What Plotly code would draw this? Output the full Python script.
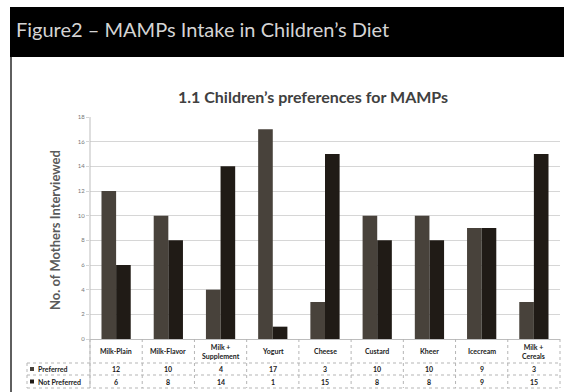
import plotly.graph_objects as go

# Chart data
categories = ["Milk-Plain", "Milk-Flavor", "Milk +<br>Supplement", "Yogurt", "Cheese",
              "Custard", "Kheer", "Icecream", "Milk +<br>Cereals"]
preferred = [12, 10, 4, 17, 3, 10, 10, 9, 3]
not_preferred = [6, 8, 14, 1, 15, 8, 8, 9, 15]
series_names = ["Preferred", "Not Preferred"]
y_ticks = [0, 2, 4, 6, 8, 10, 12, 14, 16, 18]

W, H = 564, 392
L, R, T, B = 90, 4, 117, 53          # plot-area margins in px
PW, PH = W - L - R, H - T - B
N = len(categories)

C_PREF = "#48423b"
C_NOT = "#201b16"
GRID = "#d6d6d6"


def px_x(px):
    return (px - L) / PW


def px_y(py):
    return (H - B - py) / PH


def cat_x(i):
    # paper x of a category position on the [-0.5, N-0.5] axis
    return (i + 0.5) / N


fig = go.Figure()
fig.add_bar(x=list(range(N)), y=preferred, name=series_names[0],
            marker=dict(color=C_PREF, line=dict(width=0)))
fig.add_bar(x=list(range(N)), y=not_preferred, name=series_names[1],
            marker=dict(color=C_NOT, line=dict(width=0)))

shapes = []
annotations = []

# Header band
shapes.append(dict(type="rect", xref="paper", yref="paper",
                   x0=px_x(10), x1=px_x(566), y0=px_y(57), y1=px_y(7),
                   fillcolor="#000000", line=dict(width=0), layer="below"))
annotations.append(dict(xref="paper", yref="paper", x=px_x(14), y=px_y(29),
                        text="Figure2 \u2013 MAMPs Intake in Children\u2019s Diet",
                        showarrow=False, xanchor="left", yanchor="middle",
                        font=dict(family="Lato", size=20, color="#d4d4d4")))
# Left frame line of the slide
shapes.append(dict(type="line", xref="paper", yref="paper",
                   x0=px_x(11), x1=px_x(11), y0=px_y(57), y1=px_y(394),
                   line=dict(color="#2a2a2a", width=1.5)))

# Chart title
annotations.append(dict(xref="paper", yref="paper", x=px_x(313), y=px_y(96),
                        text="<b>1.1 Children\u2019s preferences for MAMPs</b>",
                        showarrow=False, xanchor="center", yanchor="middle",
                        font=dict(family="Lato", size=16, color="#404040")))

# Y axis title
annotations.append(dict(xref="paper", yref="paper", x=px_x(55), y=px_y(230),
                        text="<b>No. of Mothers Interviewed</b>", textangle=-90,
                        showarrow=False, xanchor="center", yanchor="middle",
                        font=dict(family="Lato", size=13, color="#5a5a5a")))

# Data table under the axis
row_cat_top, row1_top, row2_top, row_bot = 339, 363, 375, 388
dot = dict(color="#b5b5b5", width=1, dash="dot")
for py in (row1_top, row2_top, row_bot):
    shapes.append(dict(type="line", xref="paper", yref="paper",
                       x0=px_x(27), x1=1, y0=px_y(py), y1=px_y(py), line=dot))
for i in range(N + 1):
    shapes.append(dict(type="line", xref="paper", yref="paper",
                       x0=i / N, x1=i / N, y0=px_y(row_cat_top), y1=px_y(row_bot),
                       line=dot))
shapes.append(dict(type="line", xref="paper", yref="paper",
                   x0=px_x(27), x1=px_x(27), y0=px_y(row1_top), y1=px_y(row_bot),
                   line=dot))

cell_font = dict(family="Lato", size=7, color="#222222")
for i, cat in enumerate(categories):
    annotations.append(dict(xref="paper", yref="paper", x=cat_x(i),
                            y=px_y((row_cat_top + row1_top) / 2),
                            text="<b>" + cat + "</b>", showarrow=False,
                            xanchor="center", yanchor="middle", font=cell_font))
    for vals, top, bot in ((preferred, row1_top, row2_top),
                           (not_preferred, row2_top, row_bot)):
        annotations.append(dict(xref="paper", yref="paper", x=cat_x(i),
                                y=px_y((top + bot) / 2),
                                text="<b>%d</b>" % vals[i], showarrow=False,
                                xanchor="center", yanchor="middle", font=cell_font))

# Legend keys in the table's first column
for name, color, top, bot in ((series_names[0], C_PREF, row1_top, row2_top),
                              (series_names[1], C_NOT, row2_top, row_bot)):
    cy = (top + bot) / 2
    shapes.append(dict(type="rect", xref="paper", yref="paper",
                       x0=px_x(30), x1=px_x(34), y0=px_y(cy + 2), y1=px_y(cy - 2),
                       fillcolor=color, line=dict(width=0)))
    annotations.append(dict(xref="paper", yref="paper", x=px_x(36), y=px_y(cy),
                            text="<b>" + name + "</b>", showarrow=False,
                            xanchor="left", yanchor="middle", font=cell_font))

# Y axis line extends through the table
shapes.append(dict(type="line", xref="paper", yref="paper",
                   x0=0, x1=0, y0=px_y(row_bot), y1=1,
                   line=dict(color="#bdbdbd", width=1)))

fig.update_layout(
    width=W, height=H,
    margin=dict(l=L, r=R, t=T, b=B, pad=0),
    paper_bgcolor="white", plot_bgcolor="white",
    barmode="group", bargap=0.44, bargroupgap=0,
    showlegend=False,
    shapes=shapes, annotations=annotations,
    xaxis=dict(range=[-0.5, N - 0.5], showticklabels=False, showgrid=False,
               zeroline=False, showline=True, linecolor="#bdbdbd", linewidth=1,
               ticks=""),
    yaxis=dict(range=[0, 18], tickvals=y_ticks, showgrid=True, gridcolor=GRID,
               gridwidth=1, zeroline=False, showline=False, ticks="outside",
               ticklen=3, tickcolor=GRID,
               tickfont=dict(family="Lato", size=6, color="#777777")),
    font=dict(family="Lato"),
)

fig.write_html("out.html")
